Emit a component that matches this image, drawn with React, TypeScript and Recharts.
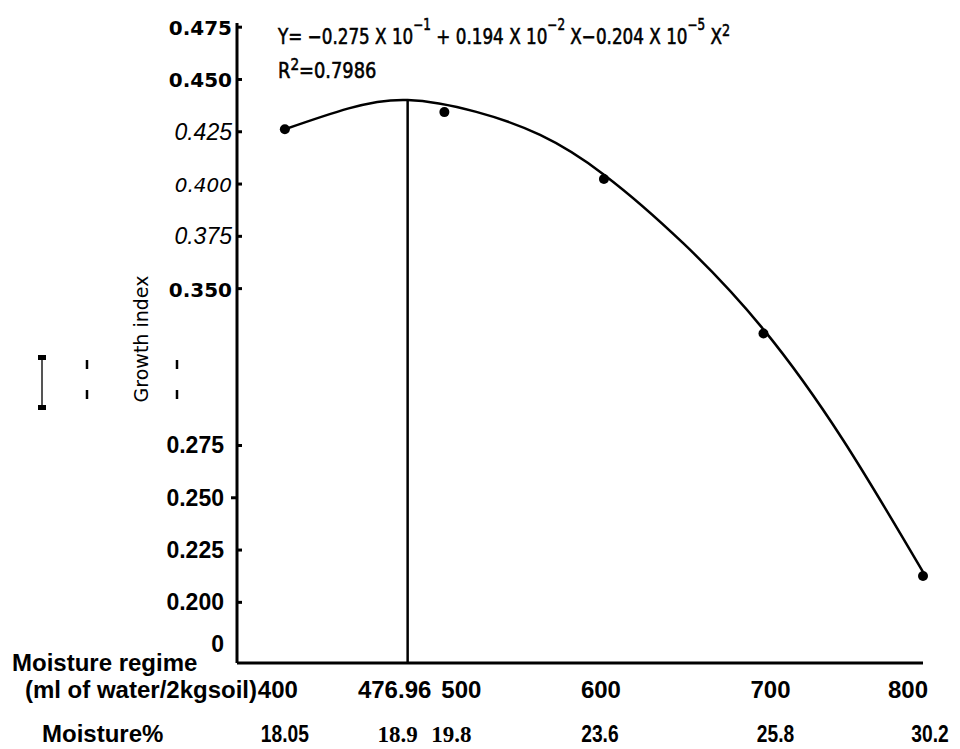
import React from 'react';
import { ComposedChart, Line, Scatter, XAxis, YAxis, ReferenceLine } from 'recharts';

// moisture regime (ml of water / 2 kg soil) and measured growth index
const regimeX = [400, 500, 600, 700, 800];
const growthObserved = [0.4262, 0.4344, 0.4024, 0.3285, 0.2126];

// fitted curve, values
const curveX = [400, 440, 476.96, 520, 560, 600, 650, 700, 750, 800];
const curveY = [0.4262, 0.4362, 0.4402, 0.4345, 0.4235, 0.4045, 0.3715, 0.3305, 0.2775, 0.2145];

const optimumX = 476.96;

// axis ticks
const xTickValues = [400, 476.96, 500, 600, 700, 800];
const xTickLabels = ['400', '476.96', '500', '600', '700', '800'];
const moistureLabels = ['18.05', '18.9', '19.8', '23.6', '25.8', '30.2'];
const yTickValues = [0.18, 0.2, 0.225, 0.25, 0.275, 0.35, 0.375, 0.4, 0.425, 0.45, 0.475];
const yTickLabels = ['0', '0.200', '0.225', '0.250', '0.275', '0.350', '0.375', '0.400', '0.425', '0.450', '0.475'];

const xDomain = [370, 800];
const yDomain = [0.171, 0.477];

const curveData = curveX.map((x, i) => ({ x, y: curveY[i] }));
const pointData = regimeX.map((x, i) => ({ x, y: growthObserved[i] }));
const peakY = curveY[curveX.indexOf(optimumX)];

// label nudges so the scan's hand-placed labels line up
const row1Nudge = [-7, -13, 17, -3, 7, -15];
const row2Nudge = [0, -10, 7, -4, 12, 7];

const SANS = "'Liberation Sans', Arial, sans-serif";
const DEJA = "'DejaVu Sans', sans-serif";
const SERIF = "'Liberation Serif', 'Times New Roman', serif";

const XTick = (props: any) => {
    const { x, y, index } = props;
    const serifRow = index === 1 || index === 2;
    return (
        <g>
            <text
                x={x + row1Nudge[index]}
                y={y + 35}
                textAnchor="middle"
                fontFamily={SANS}
                fontWeight="bold"
                fontSize={24}
                fill="#000"
            >
                {xTickLabels[index]}
            </text>
            {serifRow ? (
                <text
                    x={x + row2Nudge[index]}
                    y={y + 79}
                    textAnchor="middle"
                    fontFamily={SERIF}
                    fontWeight="bold"
                    fontSize={23}
                    fill="#000"
                >
                    {moistureLabels[index]}
                </text>
            ) : (
                <text
                    transform={`translate(${x + row2Nudge[index]},${y + 79}) scale(0.8,1)`}
                    textAnchor="middle"
                    fontFamily={SANS}
                    fontWeight="bold"
                    fontSize={24}
                    fill="#000"
                >
                    {moistureLabels[index]}
                </text>
            )}
        </g>
    );
};

const yLabelFont = (v: number) => {
    if (v >= 0.45 || v === 0.35) return { fontFamily: DEJA, fontWeight: 'bold', fontSize: 20, fontStyle: 'normal' };
    if (v === 0.4) return { fontFamily: DEJA, fontWeight: 'normal', fontSize: 20, fontStyle: 'oblique' };
    if (v > 0.35) return { fontFamily: SANS, fontWeight: 'normal', fontSize: 23, fontStyle: 'italic' };
    return { fontFamily: SANS, fontWeight: 'bold', fontSize: 23, fontStyle: 'normal' };
};

const YTick = (props: any) => {
    const { x, y, payload } = props;
    const v = payload.value;
    const label = yTickLabels[yTickValues.indexOf(v)];
    const f = yLabelFont(v);
    const lower = v < 0.3;
    return (
        <g>
            {v > 0.19 && v !== 0.25 && (
                <line x1={x + 5} x2={x + 10} y1={y} y2={y} stroke="#000" strokeWidth={3} />
            )}
            {v === 0.25 && <line x1={x - 1} x2={x + 4} y1={y} y2={y} stroke="#000" strokeWidth={3} />}
            <text
                x={lower ? x - 8 : x}
                y={y}
                dy={8}
                textAnchor="end"
                fill="#000"
                fontFamily={f.fontFamily}
                fontWeight={f.fontWeight}
                fontSize={f.fontSize}
                fontStyle={f.fontStyle}
            >
                {label}
            </text>
        </g>
    );
};

const Dot = (props: any) => <circle cx={props.cx} cy={props.cy} r={5} fill="#000" />;

export default function App() {
    return (
        <div style={{ position: 'absolute', left: 0, top: 0, width: 960, height: 749, background: '#fff' }}>
            <ComposedChart width={960} height={749} margin={{ top: 23, right: 37, bottom: 0, left: 0 }}>
                <XAxis
                    type="number"
                    dataKey="x"
                    domain={xDomain}
                    ticks={xTickValues}
                    height={86}
                    tickLine={false}
                    tickSize={0}
                    tickMargin={0}
                    tick={<XTick />}
                    axisLine={{ stroke: '#000', strokeWidth: 3 }}
                    interval={0}
                />
                <YAxis
                    type="number"
                    dataKey="y"
                    domain={yDomain}
                    ticks={yTickValues}
                    width={237}
                    tickLine={false}
                    tickSize={0}
                    tickMargin={5}
                    tick={<YTick />}
                    axisLine={{ stroke: '#000', strokeWidth: 3 }}
                    interval={0}
                />
                <ReferenceLine
                    segment={[
                        { x: optimumX, y: peakY },
                        { x: optimumX, y: yDomain[0] },
                    ]}
                    stroke="#000"
                    strokeWidth={2.5}
                />
                <Line
                    data={curveData}
                    dataKey="y"
                    type="natural"
                    stroke="#000"
                    strokeWidth={2.5}
                    dot={false}
                    isAnimationActive={false}
                />
                <Scatter data={pointData} dataKey="y" shape={<Dot />} isAnimationActive={false} />
            </ComposedChart>

            {/* titles, equation and scan marks */}
            <svg
                width={960}
                height={749}
                style={{ position: 'absolute', left: 0, top: 0, pointerEvents: 'none' }}
            >
                <g transform="translate(278,44) scale(0.8,1)">
                    <text x={0} y={0} fontFamily={DEJA} fontSize={21} fill="#000" stroke="#000" strokeWidth={0.6}>
                        Y= −0.275 X 10
                        <tspan dy={-14} fontSize={15}>−1</tspan>
                        <tspan dy={14}> + 0.194 X 10</tspan>
                        <tspan dy={-14} fontSize={15}>−2</tspan>
                        <tspan dy={14}> X−0.204 X 10</tspan>
                        <tspan dy={-14} fontSize={15}>−5</tspan>
                        <tspan dy={14}> X</tspan>
                        <tspan dy={-8} fontSize={16}>2</tspan>
                    </text>
                </g>
                <g transform="translate(278,78) scale(0.85,1)">
                    <text x={0} y={0} fontFamily={DEJA} fontSize={21} fill="#000" stroke="#000" strokeWidth={0.6}>
                        R<tspan dy={-8} fontSize={16}>2</tspan>
                        <tspan dy={8}>=0.7986</tspan>
                    </text>
                </g>
                <text
                    transform="translate(148,339) rotate(-90)"
                    textAnchor="middle"
                    fontFamily={DEJA}
                    fontSize={19}
                    fill="#000"
                >
                    Growth index
                </text>
                <text x={12} y={671} fontFamily={SANS} fontWeight="bold" fontSize={24} fill="#000">
                    Moisture regime
                </text>
                <text x={257} y={698} textAnchor="end" fontFamily={SANS} fontWeight="bold" fontSize={24} fill="#000">
                    (ml of water/2kgsoil)
                </text>
                <text x={42} y={742} fontFamily={SANS} fontWeight="bold" fontSize={24} fill="#000">
                    Moisture%
                </text>
                <line x1={42} x2={42} y1={358} y2={407} stroke="#555" strokeWidth={2} />
                <rect x={38} y={355} width={8} height={5} fill="#000" />
                <rect x={38} y={405} width={8} height={5} fill="#000" />
                <line x1={87} x2={87} y1={360} y2={369} stroke="#000" strokeWidth={2.5} />
                <line x1={87} x2={87} y1={390} y2={399} stroke="#000" strokeWidth={2.5} />
                <line x1={177} x2={177} y1={360} y2={369} stroke="#000" strokeWidth={2.5} />
                <line x1={177} x2={177} y1={390} y2={399} stroke="#000" strokeWidth={2.5} />
            </svg>
        </div>
    );
}
